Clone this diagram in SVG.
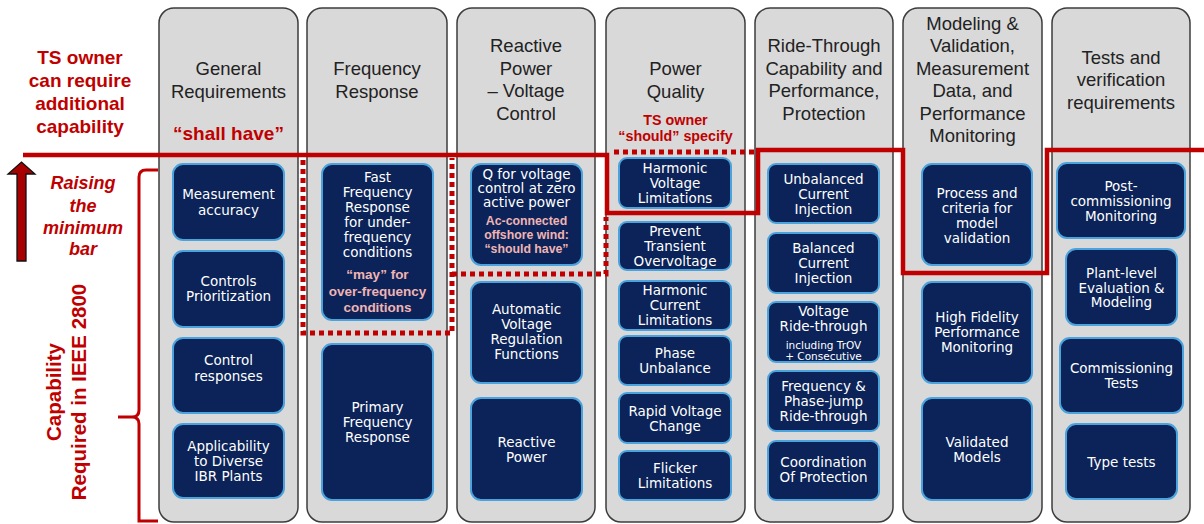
<svg xmlns="http://www.w3.org/2000/svg" width="1204" height="524" viewBox="0 0 1204 524">
<style>
.col{fill:#d9d9d9;stroke:#3c3c3c;stroke-width:1.5}
.hd{font-family:"Liberation Sans",Arial,sans-serif;font-size:18.5px;fill:#222;text-anchor:middle}
.box{fill:#0b2358;stroke:#4aa3dc;stroke-width:2}
.bt{font-family:"DejaVu Sans",Verdana,sans-serif;font-size:13.5px;fill:#fff;text-anchor:middle}
.sm{font-size:10.5px}
.pk{font-family:"Liberation Sans",Arial,sans-serif;font-weight:bold;fill:#f0b4b4;text-anchor:middle}
.red{font-family:"Liberation Sans",Arial,sans-serif;font-weight:bold;fill:#c00000;text-anchor:middle}
.solid{fill:none;stroke:#c00000;stroke-width:4.5}
.dot{fill:none;stroke:#c00000;stroke-width:5;stroke-dasharray:5 4}
.br{fill:none;stroke:#c00000;stroke-width:3}
</style>
<rect width="1204" height="524" fill="#fff"/>

<g id="side-labels">
<text class="red" font-size="19" x="80" y="64">TS owner</text>
<text class="red" font-size="19" x="80" y="87">can require</text>
<text class="red" font-size="19" x="80" y="110">additional</text>
<text class="red" font-size="19" x="80" y="133">capability</text>
<text class="red" font-size="18" font-style="italic" x="83" y="189">Raising</text>
<text class="red" font-size="18" font-style="italic" x="83" y="212">the</text>
<text class="red" font-size="18" font-style="italic" x="83" y="234">minimum</text>
<text class="red" font-size="18" font-style="italic" x="83" y="255">bar</text>
<text class="red" font-size="20.5" transform="translate(61,392) rotate(-90)">Capability</text>
<text class="red" font-size="20.5" transform="translate(86,392) rotate(-90)">Required in IEEE 2800</text>
<polygon points="17,261 17,174 8,174 21.5,162 35,174 26,174 26,261" fill="#a80000" stroke="#111" stroke-width="1.3"/>
<path class="br" d="M158,170 H146 Q139,170 139,177 V410 Q139,417 132,417 H118 M132,417 Q139,417 139,424 V521 H158"/>
</g>

<g id="col-general">
<rect class="col" x="159" y="8" width="139" height="514" rx="15"/>
<text class="hd" x="228.5" y="75">General</text>
<text class="hd" x="228.5" y="97.5">Requirements</text>
<text class="red" font-size="19" x="228.5" y="140">“shall have”</text>
<g id="n-measurement"><rect class="box" x="173" y="164" width="111" height="76" rx="10"/>
<text class="bt" x="228.5" y="199">Measurement</text><text class="bt" x="228.5" y="215">accuracy</text></g>
<g id="n-controls-prio"><rect class="box" x="173" y="251" width="111" height="76" rx="10"/>
<text class="bt" x="228.5" y="286">Controls</text><text class="bt" x="228.5" y="301">Prioritization</text></g>
<g id="n-control-resp"><rect class="box" x="173" y="338" width="111" height="75" rx="10"/>
<text class="bt" x="228.5" y="365">Control</text><text class="bt" x="228.5" y="381">responses</text></g>
<g id="n-applicability"><rect class="box" x="173" y="424" width="111" height="74" rx="10"/>
<text class="bt" x="228.5" y="451">Applicability</text><text class="bt" x="228.5" y="466">to Diverse</text><text class="bt" x="228.5" y="481">IBR Plants</text></g>
</g>

<g id="col-frequency">
<rect class="col" x="307" y="8" width="140" height="514" rx="15"/>
<text class="hd" x="377" y="75">Frequency</text>
<text class="hd" x="377" y="97.5">Response</text>
<g id="n-ffr"><rect class="box" x="322" y="164" width="111" height="156" rx="10"/>
<text class="bt" x="377.5" y="182">Fast</text><text class="bt" x="377.5" y="197">Frequency</text><text class="bt" x="377.5" y="212">Response</text>
<text class="bt" x="377.5" y="227">for under-</text><text class="bt" x="377.5" y="242">frequency</text><text class="bt" x="377.5" y="257">conditions</text>
<text class="pk" font-size="13.5" x="377.5" y="279">“may” for</text><text class="pk" font-size="13.5" x="377.5" y="296">over-frequency</text><text class="pk" font-size="13.5" x="377.5" y="312">conditions</text></g>
<g id="n-pfr"><rect class="box" x="322" y="344" width="111" height="156" rx="10"/>
<text class="bt" x="377.5" y="412">Primary</text><text class="bt" x="377.5" y="427">Frequency</text><text class="bt" x="377.5" y="442">Response</text></g>
</g>

<g id="col-reactive">
<rect class="col" x="457" y="8" width="138" height="514" rx="15"/>
<text class="hd" x="526" y="52">Reactive</text>
<text class="hd" x="526" y="74.5">Power</text>
<text class="hd" x="526" y="97">– Voltage</text>
<text class="hd" x="526" y="119.5">Control</text>
<g id="n-qzero"><rect class="box" x="471" y="164" width="111" height="101" rx="10"/>
<text class="bt" font-size="11.2" x="526.5" y="179">Q for voltage</text><text class="bt" font-size="11.2" x="526.5" y="193">control at zero</text><text class="bt" font-size="11.2" x="526.5" y="207">active power</text>
<text class="pk" font-size="12.3" x="526.5" y="225">Ac-connected</text><text class="pk" font-size="12.3" x="526.5" y="239">offshore wind:</text><text class="pk" font-size="12.3" x="526.5" y="253">“should have”</text></g>
<g id="n-avr"><rect class="box" x="471" y="282" width="111" height="101" rx="10"/>
<text class="bt" x="526.5" y="314">Automatic</text><text class="bt" x="526.5" y="329">Voltage</text><text class="bt" x="526.5" y="344">Regulation</text><text class="bt" x="526.5" y="359">Functions</text></g>
<g id="n-reactive-power"><rect class="box" x="471" y="398" width="111" height="102" rx="10"/>
<text class="bt" x="526.5" y="447">Reactive</text><text class="bt" x="526.5" y="462">Power</text></g>
</g>

<g id="col-power-quality">
<rect class="col" x="606" y="8" width="139" height="514" rx="15"/>
<text class="hd" x="675.5" y="75">Power</text>
<text class="hd" x="675.5" y="97.5">Quality</text>
<text class="red" font-size="14.3" x="675.5" y="125">TS owner</text>
<text class="red" font-size="14.3" x="675.5" y="141">“should” specify</text>
<g id="n-harm-v"><rect class="box" x="619" y="158" width="112" height="50" rx="8"/>
<text class="bt" x="675" y="173">Harmonic</text><text class="bt" x="675" y="188">Voltage</text><text class="bt" x="675" y="203">Limitations</text></g>
<g id="n-transient"><rect class="box" x="619" y="222" width="112" height="48" rx="8"/>
<text class="bt" x="675" y="236">Prevent</text><text class="bt" x="675" y="251">Transient</text><text class="bt" x="675" y="266">Overvoltage</text></g>
<g id="n-harm-c"><rect class="box" x="619" y="281" width="112" height="49" rx="8"/>
<text class="bt" x="675" y="295">Harmonic</text><text class="bt" x="675" y="310">Current</text><text class="bt" x="675" y="325">Limitations</text></g>
<g id="n-phase"><rect class="box" x="619" y="336" width="112" height="49" rx="8"/>
<text class="bt" x="675" y="358">Phase</text><text class="bt" x="675" y="373">Unbalance</text></g>
<g id="n-rvc"><rect class="box" x="619" y="393" width="112" height="50" rx="8"/>
<text class="bt" font-size="12.8" x="675" y="416">Rapid Voltage</text><text class="bt" x="675" y="431">Change</text></g>
<g id="n-flicker"><rect class="box" x="619" y="451" width="112" height="49" rx="8"/>
<text class="bt" x="675" y="473">Flicker</text><text class="bt" x="675" y="488">Limitations</text></g>
</g>

<g id="col-ride-through">
<rect class="col" x="755" y="8" width="138" height="514" rx="15"/>
<text class="hd" x="824" y="52">Ride-Through</text>
<text class="hd" x="824" y="74.5">Capability and</text>
<text class="hd" x="824" y="97">Performance,</text>
<text class="hd" x="824" y="119.5">Protection</text>
<g id="n-unbal"><rect class="box" x="768" y="164" width="111" height="59" rx="8"/>
<text class="bt" x="823.5" y="184">Unbalanced</text><text class="bt" x="823.5" y="199">Current</text><text class="bt" x="823.5" y="214">Injection</text></g>
<g id="n-bal"><rect class="box" x="768" y="233" width="111" height="60" rx="8"/>
<text class="bt" x="823.5" y="253">Balanced</text><text class="bt" x="823.5" y="268">Current</text><text class="bt" x="823.5" y="283">Injection</text></g>
<g id="n-vrt"><rect class="box" x="768" y="302" width="111" height="60" rx="8"/>
<text class="bt" x="823.5" y="316">Voltage</text><text class="bt" x="823.5" y="331">Ride-through</text>
<text class="bt sm" x="823.5" y="349">including TrOV</text><text class="bt sm" x="823.5" y="360">+ Consecutive</text></g>
<g id="n-frt"><rect class="box" x="768" y="371" width="111" height="60" rx="8"/>
<text class="bt" x="823.5" y="391">Frequency &amp;</text><text class="bt" x="823.5" y="406">Phase-jump</text><text class="bt" x="823.5" y="421">Ride-through</text></g>
<g id="n-coord"><rect class="box" x="768" y="441" width="111" height="59" rx="8"/>
<text class="bt" x="823.5" y="467">Coordination</text><text class="bt" x="823.5" y="482">Of Protection</text></g>
</g>

<g id="col-modeling">
<rect class="col" x="903" y="8" width="139" height="514" rx="15"/>
<text class="hd" x="972.5" y="29.5">Modeling &amp;</text>
<text class="hd" x="972.5" y="52">Validation,</text>
<text class="hd" x="972.5" y="74.5">Measurement</text>
<text class="hd" x="972.5" y="97">Data, and</text>
<text class="hd" x="972.5" y="119.5">Performance</text>
<text class="hd" x="972.5" y="142">Monitoring</text>
<g id="n-process"><rect class="box" x="922" y="164" width="110" height="101" rx="10"/>
<text class="bt" x="977" y="198">Process and</text><text class="bt" x="977" y="213">criteria for</text><text class="bt" x="977" y="228">model</text><text class="bt" x="977" y="243">validation</text></g>
<g id="n-hifi"><rect class="box" x="922" y="282" width="110" height="101" rx="10"/>
<text class="bt" x="977" y="322">High Fidelity</text><text class="bt" x="977" y="337">Performance</text><text class="bt" x="977" y="352">Monitoring</text></g>
<g id="n-validated"><rect class="box" x="922" y="398" width="110" height="102" rx="10"/>
<text class="bt" x="977" y="447">Validated</text><text class="bt" x="977" y="462">Models</text></g>
</g>

<g id="col-tests">
<rect class="col" x="1052" y="8" width="138" height="514" rx="15"/>
<text class="hd" x="1121" y="63.5">Tests and</text>
<text class="hd" x="1121" y="86">verification</text>
<text class="hd" x="1121" y="108.5">requirements</text>
<g id="n-postcomm"><rect class="box" x="1057" y="163" width="128" height="75" rx="10"/>
<text class="bt" x="1121" y="191">Post-</text><text class="bt" x="1121" y="206">commissioning</text><text class="bt" x="1121" y="221">Monitoring</text></g>
<g id="n-plant"><rect class="box" x="1066" y="249" width="111" height="76" rx="10"/>
<text class="bt" x="1121.5" y="278">Plant-level</text><text class="bt" x="1121.5" y="293">Evaluation &amp;</text><text class="bt" x="1121.5" y="307">Modeling</text></g>
<g id="n-commtests"><rect class="box" x="1060" y="338" width="123" height="75" rx="10"/>
<text class="bt" x="1121.5" y="373">Commissioning</text><text class="bt" x="1121.5" y="388">Tests</text></g>
<g id="n-type"><rect class="box" x="1066" y="424" width="111" height="75" rx="10"/>
<text class="bt" x="1121.5" y="467">Type tests</text></g>
</g>

<g id="connectors">
<path class="solid" d="M23,155 H607 V213 H758 V150 H903 V273 H1047 V150 H1204"/>
<path class="dot" d="M303,160 V333 H452 V158"/>
<path class="dot" d="M452,274 H606 V217"/>
<path class="dot" d="M614,152 H754"/>
</g>
</svg>
